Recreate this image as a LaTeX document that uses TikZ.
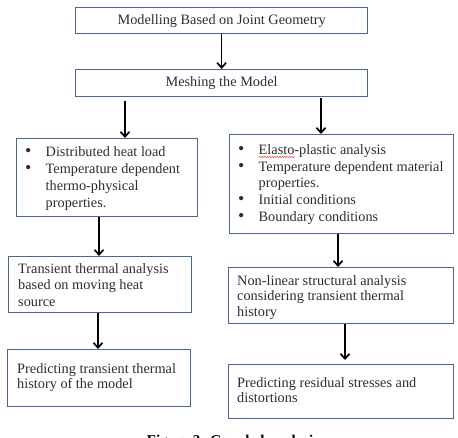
\documentclass[tikz,border=0pt]{standalone}
\usepackage{fontspec}
\setmainfont{Liberation Serif}
\usetikzlibrary{arrows.meta,decorations.pathmorphing}
\definecolor{boxline}{RGB}{72,104,140}
\definecolor{txtgray}{RGB}{45,45,45}
\newcommand{\bul}{\makebox[20.5pt][l]{\raisebox{-0.3pt}{\scalebox{1.25}{\textbullet}}}}

\begin{document}
\begin{tikzpicture}[x=1pt,y=-1pt,
	box/.style={draw=boxline, line width=1.2pt, anchor=north west, inner sep=0pt},
	txt/.style={anchor=north west, inner sep=0pt, text=txtgray},
	arr/.style={-{Straight Barb[length=5pt,width=9pt]}, line width=1.7pt}]
	\useasboundingbox (0,0) rectangle (458,438);

	% top of the chart
	\node [box, text=txtgray, font=\fontsize{14.3}{16}\selectfont, minimum width=292pt, minimum height=26pt]
	(model) at (75,7) {Modelling Based on Joint Geometry};
	\node [box, text=txtgray, font=\fontsize{14.3}{16}\selectfont, minimum width=292pt, minimum height=27pt]
	(mesh) at (75,69) {Meshing the Model};

	% boxes
	\node [box, minimum width=181pt, minimum height=78pt] (heat) at (16,138) {};
	\node [box, minimum width=224pt, minimum height=99pt] (mat) at (229,134) {};
	\node [box, minimum width=183pt, minimum height=56pt] (therm) at (8,256) {};
	\node [box, minimum width=225pt, minimum height=56pt] (struct) at (228,267) {};
	\node [box, minimum width=183pt, minimum height=57pt] (hist) at (7,349) {};
	\node [box, minimum width=225pt, minimum height=54pt] (resid) at (228,364) {};

	% texts
	\node [txt, font=\fontsize{14.3}{17}\selectfont] (heattxt) at (25,144.4) {\begin{tabular}{@{}l@{}l@{}}
		\bul & Distributed heat load\\
		\bul & Temperature dependent\\
		& thermo-physical\\
		& properties.
	\end{tabular}};
	\node [txt, font=\fontsize{14.3}{16.7}\selectfont] (mattxt) at (238,142.6) {\begin{tabular}{@{}l@{}l@{}}
		\bul & Elasto-plastic analysis\\
		\bul & Temperature dependent material\\
		& properties.\\
		\bul & Initial conditions\\
		\bul & Boundary conditions
	\end{tabular}};
	\node [txt, font=\fontsize{14.3}{16.5}\selectfont] (thermtxt) at (18,261.7) {\begin{tabular}{@{}l@{}}
		Transient thermal analysis\\
		based on moving heat\\
		source
	\end{tabular}};
	\node [txt, font=\fontsize{14.3}{15.5}\selectfont] (structtxt) at (237,274.4) {\begin{tabular}{@{}l@{}}
		Non-linear structural analysis\\
		considering transient thermal\\
		history
	\end{tabular}};
	\node [txt, font=\fontsize{14.3}{15}\selectfont] (histtxt) at (17,362.8) {\begin{tabular}{@{}l@{}}
		Predicting transient thermal\\
		history of the model
	\end{tabular}};
	\node [txt, font=\fontsize{14.3}{15}\selectfont] (residtxt) at (237,376.8) {\begin{tabular}{@{}l@{}}
		Predicting residual stresses and\\
		distortions
	\end{tabular}};
	%\draw [red] (259,157) -- (295,157);
	\draw [red!80, line width=0.5pt, decorate, decoration={snake, amplitude=0.6pt, segment length=2.5pt}]
	(259,157) -- (295,157);

	% arrows
	\draw [arr] (model.south) -- (mesh.north);
	\draw [arr] ([yshift=-4pt]mesh.south -| 125,0) -- (heat.north -| 125,0);
	\draw [arr] ([yshift=-1pt]mesh.south -| 321,0) -- (mat.north -| 321,0);
	\draw [arr] (heat.south -| 99,0) -- (therm.north -| 99,0);
	\draw [arr] (mat.south -| 338,0) -- (struct.north -| 338,0);
	\draw [arr] (therm.south -| 98,0) -- (hist.north -| 98,0);
	\draw [arr] (struct.south -| 345,0) -- ([yshift=4pt]resid.north -| 345,0);

	\node [anchor=base, font=\fontsize{15}{18}\selectfont\bfseries] (caption) at (233,445) {Figure 3: Coupled analysis};
\end{tikzpicture}
\end{document}
